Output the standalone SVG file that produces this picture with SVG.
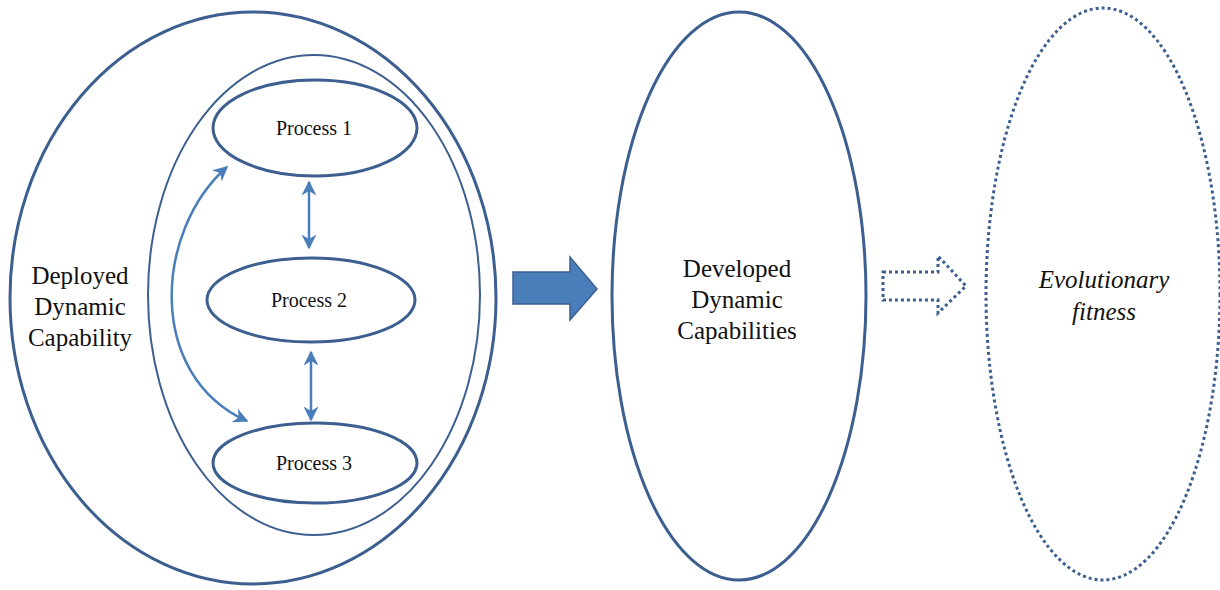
<svg xmlns="http://www.w3.org/2000/svg" width="1220" height="590" viewBox="0 0 1220 590">
<style>
.e{fill:none;stroke:#3c5f90;stroke-width:3}
.thin{fill:none;stroke:#3c5f90;stroke-width:2}
.dot{fill:none;stroke:#3c5f90;stroke-width:3;stroke-dasharray:3 3}
.t{font-family:"Liberation Serif","Times New Roman",serif;font-size:25px;fill:#111;text-anchor:middle}
.p{font-family:"Liberation Serif","Times New Roman",serif;font-size:20px;fill:#111;text-anchor:middle}
.c{fill:none;stroke:#4a7ebb;stroke-width:2.5}
</style>
<defs>
<marker id="ah" viewBox="0 0 10 10" refX="9" refY="5" markerWidth="6" markerHeight="6" orient="auto-start-reverse" markerUnits="strokeWidth">
<path d="M0,0 L10,5 L0,10 L3,5 Z" fill="#4a7ebb"/>
</marker>
</defs>
<rect width="1220" height="590" fill="#fff"/>
<g id="deployed">
<ellipse class="e" cx="253" cy="298" rx="243" ry="286"/>
<text class="t" x="80" y="284">Deployed</text>
<text class="t" x="80" y="315">Dynamic</text>
<text class="t" x="80" y="346">Capability</text>
</g>
<g id="inner">
<ellipse class="thin" cx="314" cy="295" rx="166" ry="240"/>
</g>
<g id="process1">
<ellipse class="e" cx="315" cy="128" rx="102" ry="48"/>
<text class="p" x="314" y="135">Process 1</text>
</g>
<g id="process2">
<ellipse class="e" cx="311" cy="300" rx="104" ry="42"/>
<text class="p" x="309" y="307">Process 2</text>
</g>
<g id="process3">
<ellipse class="e" cx="315" cy="463" rx="102" ry="40"/>
<text class="p" x="314" y="470">Process 3</text>
</g>
<g id="developed">
<ellipse class="e" cx="739" cy="296" rx="127" ry="284"/>
<text class="t" x="737" y="277">Developed</text>
<text class="t" x="737" y="308">Dynamic</text>
<text class="t" x="737" y="339">Capabilities</text>
</g>
<g id="fitness">
<ellipse class="dot" cx="1103" cy="294" rx="117" ry="286"/>
<text class="t" x="1104" y="288" font-style="italic">Evolutionary</text>
<text class="t" x="1104" y="320" font-style="italic">fitness</text>
</g>
<g id="connectors">
<path class="c" d="M309,182 L309,248" marker-start="url(#ah)" marker-end="url(#ah)"/>
<path class="c" d="M311,352 L311,420" marker-start="url(#ah)" marker-end="url(#ah)"/>
<path class="c" d="M227,167 C155,230 145,375 247,421" marker-start="url(#ah)" marker-end="url(#ah)"/>
<path d="M513,272 L570,272 L570,257 L597,289 L570,320 L570,304 L513,304 Z" fill="#4a7ebb" stroke="#3c5f90" stroke-width="1.5"/>
<path d="M883,272 L938,272 L938,256 L966,286 L938,313 L938,300 L883,300 Z" fill="none" stroke="#3c5f90" stroke-width="3" stroke-dasharray="3 3"/>
</g>
</svg>
